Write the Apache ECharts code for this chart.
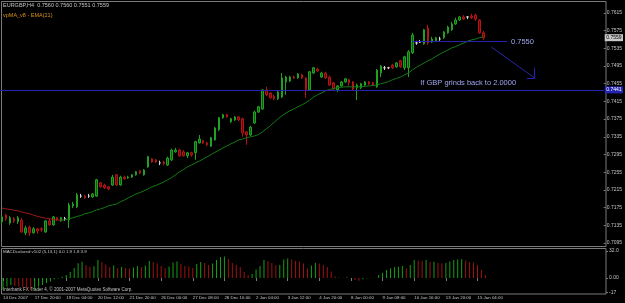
<!DOCTYPE html>
<html>
<head>
<meta charset="utf-8">
<title>EURGBP,H4</title>
<script src="https://cdn.jsdelivr.net/npm/echarts@6/dist/echarts.min.js"></script>
<style>
  html, body { margin: 0; padding: 0; background: #000; }
  #chart { width: 625px; height: 303px; }
</style>
</head>
<body>
<div id="chart"></div>
<script>
// H4 candles, 14 Dec 2007 .. 15 Jan 2008
var opens = [
  0.7143, 0.7158, 0.7140, 0.7150, 0.7143, 0.7147, 0.7118, 0.7131, 0.7118, 0.7127,
  0.7127, 0.7120, 0.7145, 0.7136, 0.7152, 0.7145, 0.7150, 0.7147, 0.7179, 0.7177,
  0.7201, 0.7201, 0.7201, 0.7199, 0.7201, 0.7231, 0.7226, 0.7222, 0.7226, 0.7249,
  0.7226, 0.7244, 0.7242, 0.7244, 0.7249, 0.7258, 0.7249, 0.7267, 0.7285, 0.7283,
  0.7276, 0.7278, 0.7271, 0.7283, 0.7301, 0.7305, 0.7301, 0.7292, 0.7299, 0.7299,
  0.7321, 0.7326, 0.7321, 0.7314, 0.7328, 0.7351, 0.7378, 0.7385, 0.7369, 0.7373,
  0.7380, 0.7376, 0.7346, 0.7339, 0.7366, 0.7391, 0.7398, 0.7441, 0.7434, 0.7427,
  0.7421, 0.7425, 0.7459, 0.7461, 0.7470, 0.7468, 0.7475, 0.7468, 0.7441, 0.7479,
  0.7488, 0.7470, 0.7479, 0.7470, 0.7457, 0.7441, 0.7450, 0.7459, 0.7464, 0.7459,
  0.7446, 0.7446, 0.7452, 0.7459, 0.7457, 0.7448, 0.7479, 0.7491, 0.7491, 0.7497,
  0.7493, 0.7507, 0.7491, 0.7491, 0.7525, 0.7547, 0.7549, 0.7545, 0.7581, 0.7549,
  0.7552, 0.7556, 0.7559, 0.7570, 0.7577, 0.7590, 0.7599, 0.7606, 0.7606, 0.7608,
  0.7610, 0.7599, 0.7570
];
var closes = [
  0.7154, 0.7150, 0.7152, 0.7145, 0.7152, 0.7120, 0.7129, 0.7118, 0.7127, 0.7122,
  0.7125, 0.7145, 0.7136, 0.7154, 0.7147, 0.7152, 0.7150, 0.7181, 0.7183, 0.7204,
  0.7201, 0.7197, 0.7201, 0.7206, 0.7238, 0.7222, 0.7220, 0.7217, 0.7244, 0.7226,
  0.7244, 0.7240, 0.7244, 0.7249, 0.7256, 0.7253, 0.7260, 0.7290, 0.7278, 0.7278,
  0.7276, 0.7274, 0.7287, 0.7305, 0.7305, 0.7292, 0.7292, 0.7299, 0.7294, 0.7324,
  0.7330, 0.7321, 0.7317, 0.7333, 0.7355, 0.7378, 0.7385, 0.7380, 0.7376, 0.7380,
  0.7373, 0.7344, 0.7339, 0.7357, 0.7391, 0.7403, 0.7441, 0.7430, 0.7423, 0.7421,
  0.7436, 0.7468, 0.7470, 0.7470, 0.7468, 0.7477, 0.7468, 0.7441, 0.7482, 0.7491,
  0.7484, 0.7479, 0.7468, 0.7452, 0.7443, 0.7450, 0.7459, 0.7466, 0.7457, 0.7443,
  0.7452, 0.7455, 0.7459, 0.7455, 0.7452, 0.7486, 0.7495, 0.7491, 0.7491, 0.7491,
  0.7502, 0.7493, 0.7516, 0.7527, 0.7565, 0.7547, 0.7549, 0.7577, 0.7547, 0.7556,
  0.7559, 0.7556, 0.7572, 0.7583, 0.7590, 0.7599, 0.7606, 0.7601, 0.7606, 0.7604,
  0.7601, 0.7570, 0.7559
];
var highs = [
  0.7158, 0.7161, 0.7156, 0.7154, 0.7156, 0.7152, 0.7134, 0.7134, 0.7131, 0.7129,
  0.7131, 0.7147, 0.7150, 0.7156, 0.7154, 0.7154, 0.7154, 0.7186, 0.7188, 0.7208,
  0.7206, 0.7204, 0.7206, 0.7208, 0.7240, 0.7233, 0.7229, 0.7224, 0.7249, 0.7251,
  0.7247, 0.7247, 0.7247, 0.7251, 0.7258, 0.7260, 0.7262, 0.7292, 0.7287, 0.7285,
  0.7281, 0.7281, 0.7290, 0.7308, 0.7310, 0.7308, 0.7305, 0.7301, 0.7301, 0.7326,
  0.7339, 0.7328, 0.7324, 0.7335, 0.7357, 0.7380, 0.7387, 0.7387, 0.7378, 0.7382,
  0.7382, 0.7378, 0.7348, 0.7360, 0.7394, 0.7405, 0.7443, 0.7448, 0.7436, 0.7430,
  0.7439, 0.7479, 0.7473, 0.7473, 0.7473, 0.7479, 0.7477, 0.7470, 0.7484, 0.7493,
  0.7491, 0.7482, 0.7482, 0.7473, 0.7459, 0.7452, 0.7461, 0.7468, 0.7466, 0.7461,
  0.7455, 0.7457, 0.7461, 0.7461, 0.7459, 0.7488, 0.7497, 0.7495, 0.7493, 0.7500,
  0.7504, 0.7509, 0.7518, 0.7531, 0.7570, 0.7552, 0.7554, 0.7579, 0.7588, 0.7561,
  0.7561, 0.7561, 0.7574, 0.7586, 0.7595, 0.7604, 0.7608, 0.7610, 0.7608, 0.7613,
  0.7613, 0.7601, 0.7574
];
var lows = [
  0.7138, 0.7145, 0.7136, 0.7140, 0.7138, 0.7118, 0.7113, 0.7111, 0.7116, 0.7116,
  0.7120, 0.7118, 0.7134, 0.7134, 0.7145, 0.7143, 0.7145, 0.7129, 0.7174, 0.7174,
  0.7197, 0.7195, 0.7197, 0.7197, 0.7199, 0.7220, 0.7217, 0.7215, 0.7224, 0.7224,
  0.7224, 0.7238, 0.7240, 0.7242, 0.7247, 0.7251, 0.7247, 0.7265, 0.7276, 0.7276,
  0.7271, 0.7271, 0.7269, 0.7280, 0.7299, 0.7290, 0.7290, 0.7287, 0.7290, 0.7283,
  0.7320, 0.7319, 0.7314, 0.7312, 0.7326, 0.7348, 0.7376, 0.7378, 0.7366, 0.7371,
  0.7371, 0.7335, 0.7317, 0.7337, 0.7364, 0.7389, 0.7396, 0.7427, 0.7421, 0.7418,
  0.7418, 0.7423, 0.7430, 0.7459, 0.7466, 0.7466, 0.7466, 0.7423, 0.7439, 0.7477,
  0.7482, 0.7468, 0.7466, 0.7450, 0.7441, 0.7436, 0.7448, 0.7457, 0.7450, 0.7439,
  0.7418, 0.7443, 0.7450, 0.7452, 0.7450, 0.7446, 0.7470, 0.7486, 0.7488, 0.7488,
  0.7491, 0.7491, 0.7486, 0.7470, 0.7522, 0.7543, 0.7547, 0.7543, 0.7543, 0.7547,
  0.7549, 0.7552, 0.7556, 0.7568, 0.7574, 0.7588, 0.7597, 0.7599, 0.7601, 0.7601,
  0.7597, 0.7568, 0.7554
];
// EMA(21)
var ema21 = [
  0.7174, 0.7172, 0.7171, 0.7169, 0.7168, 0.7165, 0.7163, 0.7161, 0.7158, 0.7155,
  0.7153, 0.7151, 0.7150, 0.7148, 0.7147, 0.7147, 0.7147, 0.7150, 0.7152, 0.7155,
  0.7157, 0.7161, 0.7163, 0.7166, 0.7170, 0.7172, 0.7175, 0.7179, 0.7181, 0.7183,
  0.7188, 0.7192, 0.7197, 0.7201, 0.7206, 0.7209, 0.7213, 0.7217, 0.7222, 0.7225,
  0.7229, 0.7233, 0.7238, 0.7243, 0.7249, 0.7256, 0.7261, 0.7267, 0.7271, 0.7276,
  0.7280, 0.7285, 0.7290, 0.7295, 0.7300, 0.7305, 0.7310, 0.7314, 0.7319, 0.7323,
  0.7328, 0.7330, 0.7333, 0.7335, 0.7337, 0.7340, 0.7346, 0.7353, 0.7360, 0.7368,
  0.7376, 0.7383, 0.7389, 0.7394, 0.7398, 0.7403, 0.7407, 0.7412, 0.7418, 0.7425,
  0.7430, 0.7434, 0.7439, 0.7442, 0.7444, 0.7446, 0.7447, 0.7448, 0.7448, 0.7448,
  0.7448, 0.7448, 0.7449, 0.7450, 0.7451, 0.7452, 0.7455, 0.7457, 0.7460, 0.7464,
  0.7467, 0.7470, 0.7475, 0.7479, 0.7486, 0.7492, 0.7497, 0.7502, 0.7507, 0.7511,
  0.7517, 0.7522, 0.7527, 0.7531, 0.7536, 0.7539, 0.7543, 0.7547, 0.7551, 0.7554,
  0.7556, 0.7559, 0.7561
];
var maTurnIndex = 15; // ema falls (red) until here, rises (green) after
// MACDcolored histogram
var macdHist = [
  -14.2, -10.1, -8.3, -9.5, -10.1, -11.3, -13.0, -14.2, -13.6, -10.1,
  -8.3, -5.9, -4.1, -1.4, -0.5, 1.5, 3.6, 7.1, 11.9, 17.4,
  19.3, 15.4, 13.4, 14.0, 21.3, 19.0, 16.0, 13.0, 14.8, 11.9,
  13.0, 11.9, 11.3, 12.4, 14.2, 13.0, 14.8, 20.1, 19.0, 17.2,
  14.2, 11.9, 13.6, 18.4, 19.6, 16.6, 14.2, 13.6, 11.9, 16.6,
  19.0, 17.8, 15.4, 17.2, 21.3, 24.9, 25.5, 22.5, 17.8, 15.4,
  13.0, 7.1, 3.6, 4.7, 10.1, 14.2, 21.3, 20.1, 17.8, 14.8,
  15.4, 21.9, 23.1, 21.9, 20.1, 19.6, 17.2, 11.3, 14.8, 17.8,
  17.2, 15.4, 13.0, 7.7, 1.8, 0.6, 0.4, 0.8, 0.4, -2.4,
  -3.2, -1.5, -0.4, 0.4, 0.2, 3.6, 6.3, 9.5, 11.5, 12.7,
  13.4, 14.2, 11.5, 15.4, 21.3, 20.7, 20.1, 21.3, 19.0, 19.3,
  18.1, 17.2, 17.8, 19.6, 21.3, 21.9, 22.2, 20.7, 19.0, 18.4,
  15.4, 9.5, 3.6
];
// one label every 8 bars
var timeLabels = ['14 Dec 2007', '17 Dec 20:00', '19 Dec 04:00', '20 Dec 12:00', '21 Dec 20:00',
  '26 Dec 00:00', '27 Dec 08:00', '28 Dec 16:00', '2 Jan 04:00', '3 Jan 12:00', '4 Jan 20:00',
  '8 Jan 00:00', '9 Jan 08:00', '10 Jan 16:00', '13 Jan 20:00', '15 Jan 04:00'];
var macdTicks = [32, 0, -17];
var macdTickText = ['32.0', '0.00', '-17'];

// drawn objects
var guideLevel = 0.7441;
var targetLevel = 0.7550;
var targetFrom = 104, targetTo = 128;
var arrowFrom = [124, 0.7538], arrowTo = [135, 0.7468];
var arrowHeadTop = 0.7491, arrowHeadLeft = 133;
var noteAt = [106, 0.7456];

var slotCount = 153; // bars plus empty chart shift on the right
var categories = [];
for (var i = 0; i < slotCount; i++) categories.push(String(i));

var candleData = opens.map(function (o, i) { return [o, closes[i], lows[i], highs[i]]; });
var maRed = ema21.map(function (v, i) { return i <= maTurnIndex ? v : '-'; });
var maGreen = ema21.map(function (v, i) { return i >= maTurnIndex ? v : '-'; });
var histData = macdHist.map(function (v, i) {
  var up = i === 0 || v > macdHist[i - 1];
  return { value: v, itemStyle: { color: up ? '#14a014' : '#a01212' } };
});
var lastClose = closes[closes.length - 1];

function isTick(idx) { return idx % 8 === 0 && idx / 8 < timeLabels.length; }

var gray = '#7a7a7a';
var txt = '#c4c4c4';
var font = 'Liberation Sans';
var blue = '#2424b0';

var chart = echarts.init(document.getElementById('chart'));
var option = {
  backgroundColor: '#000',
  animation: false,
  grid: [
    { left: -1.5, width: 607.5, top: 3, height: 240 },
    { left: -1.5, width: 607.5, top: 248, height: 46 }
  ],
  xAxis: [
    { type: 'category', gridIndex: 0, data: categories, show: false },
    {
      type: 'category', gridIndex: 1, data: categories,
      axisLine: { show: false },
      axisTick: { show: true, alignWithLabel: true, interval: isTick, length: 3, lineStyle: { color: gray } },
      axisLabel: {
        show: true, interval: isTick, align: 'left', color: txt, fontSize: 4.4, fontFamily: font, margin: 2,
        formatter: function (v, idx) { return timeLabels[idx / 8]; }
      }
    }
  ],
  yAxis: [
    {
      type: 'value', gridIndex: 0, position: 'right',
      min: 0.7095, max: 0.76374, interval: 0.004,
      axisLine: { show: false },
      splitLine: { show: false },
      axisTick: { show: true, length: 2, lineStyle: { color: gray } },
      axisLabel: {
        color: txt, fontSize: 5, fontFamily: font, margin: 3, showMaxLabel: false,
        formatter: function (v) { return v.toFixed(4); }
      }
    },
    {
      type: 'value', gridIndex: 1, position: 'right', min: -18.96, max: 35.55,
      axisLine: { show: false },
      splitLine: { show: false },
      axisTick: { show: true, length: 2, customValues: macdTicks, lineStyle: { color: gray } },
      axisLabel: {
        color: txt, fontSize: 5, fontFamily: font, margin: 3, customValues: macdTicks,
        formatter: function (v) { return macdTickText[macdTicks.indexOf(v)]; }
      }
    }
  ],
  series: [
    {
      type: 'candlestick', xAxisIndex: 0, yAxisIndex: 0, data: candleData, barWidth: 2,
      itemStyle: {
        color: '#0b5e0b', color0: '#6a0808',
        borderColor: '#22a022', borderColor0: '#b41414', borderColorDoji: '#d8d8d8', borderWidth: 1
      },
      markPoint: {
        silent: true, symbol: 'circle', symbolSize: 0,
        label: {
          show: true, position: 'right', distance: 0, color: '#9ea6ee', fontSize: 7.5, fontFamily: font,
          formatter: function (p) { return p.name; }
        },
        data: [
          { name: targetLevel.toFixed(4), coord: [targetTo + 1, targetLevel] },
          { name: 'If GBP grinds back to 2.0000', coord: noteAt }
        ]
      }
    },
    {
      type: 'line', xAxisIndex: 0, yAxisIndex: 0, data: maRed, symbol: 'none',
      lineStyle: { color: '#9a1c1c', width: 1 }
    },
    {
      type: 'line', xAxisIndex: 0, yAxisIndex: 0, data: maGreen, symbol: 'none',
      lineStyle: { color: '#137a13', width: 1 },
      markLine: {
        silent: true, symbol: ['none', 'none'], precision: 4,
        lineStyle: { color: blue, width: 1, type: 'solid' },
        label: { show: false },
        data: [
          {
            yAxis: guideLevel,
            label: {
              show: true, position: 'end', distance: 1, formatter: guideLevel.toFixed(4),
              backgroundColor: blue, color: '#fff', fontSize: 5, fontFamily: font, padding: [1, 1.5]
            }
          },
          {
            yAxis: lastClose,
            lineStyle: { color: 'rgba(0,0,0,0)' },
            label: {
              show: true, position: 'end', distance: 1, formatter: lastClose.toFixed(4),
              backgroundColor: '#c8c8c8', color: '#000', fontSize: 5, fontFamily: font, padding: [1, 1.5],
              opacity: 1
            }
          },
          [{ coord: [targetFrom, targetLevel] }, { coord: [targetTo, targetLevel] }],
          [{ coord: arrowFrom }, { coord: arrowTo }],
          [{ coord: [arrowTo[0], arrowHeadTop] }, { coord: arrowTo }],
          [{ coord: [arrowHeadLeft, arrowTo[1]] }, { coord: arrowTo }]
        ]
      }
    },
    {
      type: 'bar', xAxisIndex: 1, yAxisIndex: 1, data: histData, barWidth: 1
    }
  ],
  graphic: [
    { type: 'rect', silent: true, shape: { x: 1.5, y: 1.5, width: 604.5, height: 245 }, style: { fill: null, stroke: gray, lineWidth: 1 } },
    { type: 'rect', silent: true, shape: { x: 1.5, y: 248.5, width: 604.5, height: 45.5 }, style: { fill: null, stroke: gray, lineWidth: 1 } },
    { type: 'text', silent: true, left: 3, top: 2, style: { text: 'EURGBP,H4  0.7560 0.7560 0.7551 0.7559', fill: txt, fontSize: 5.5, fontFamily: font } },
    { type: 'text', silent: true, left: 3, top: 12, style: { text: 'vpMA_v8 - EMA(21)', fill: '#d8921e', fontSize: 5.5, fontFamily: font } },
    { type: 'text', silent: true, left: 3, top: 250, style: { text: 'MACDcolored v102 (5,13,1) 0.0 1.9 1.8 3.9', fill: txt, fontSize: 4.4, fontFamily: font } },
    { type: 'text', silent: true, left: 3, top: 287, style: { text: 'Interbank FX Trader 4, © 2001-2007 MetaQuotes Software Corp.', fill: txt, fontSize: 4.5, fontFamily: font } }
  ]
};
chart.setOption(option);
</script>
</body>
</html>
